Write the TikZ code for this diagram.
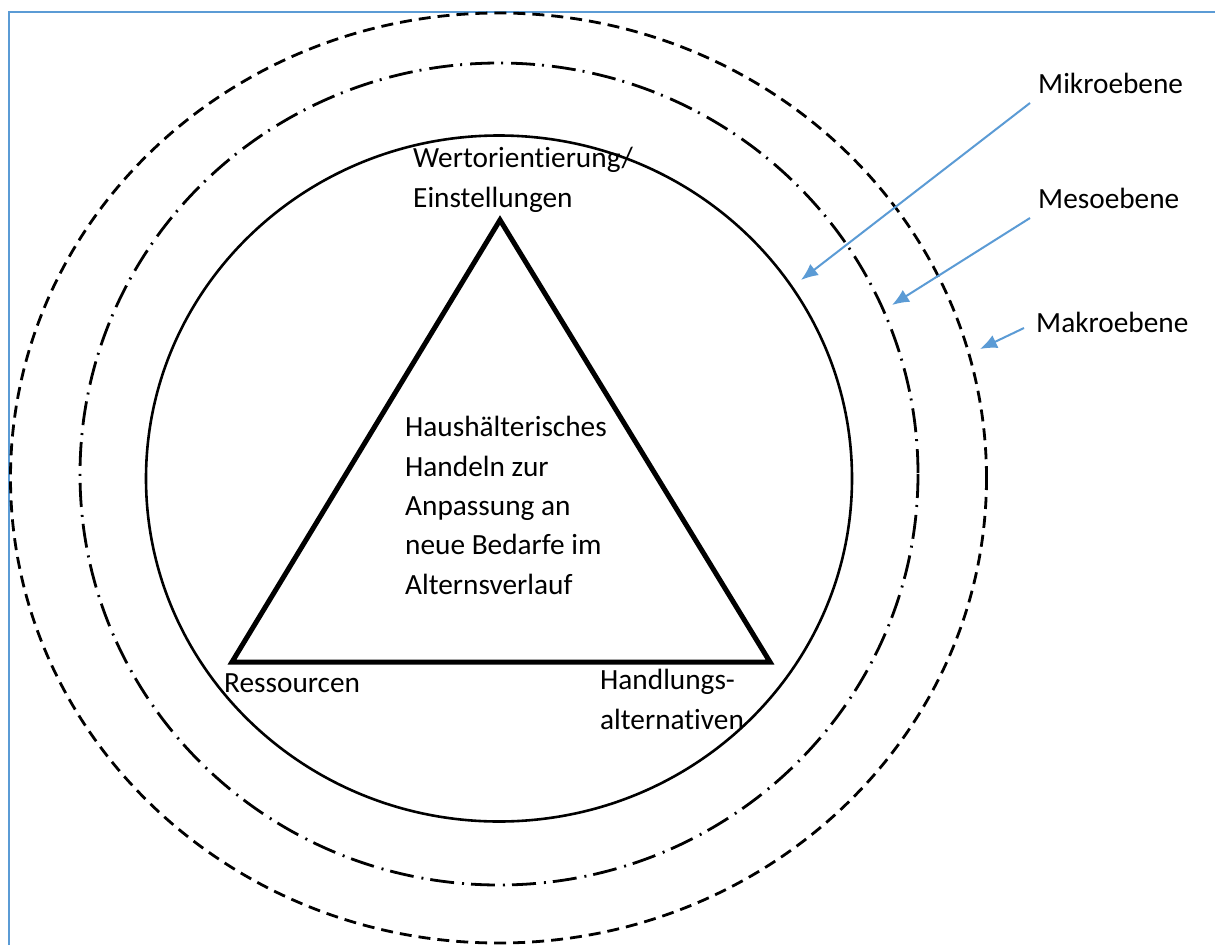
\documentclass[tikz,border=0pt]{standalone}
\usepackage{fontspec}
\setmainfont{Carlito}[Ligatures=NoCommon]
\usetikzlibrary{arrows.meta}
\definecolor{msblue}{RGB}{91,155,213}
\begin{document}
\begin{tikzpicture}[x=1pt,y=-1pt,
  lbl/.style={anchor=base west, inner sep=0pt, align=left, font=\fontsize{29.3pt}{39.3pt}\selectfont},
  ring/.style={draw=black, line width=2.6pt},
  dashring/.style={draw=black, line width=2.8pt, dash pattern=on 12pt off 7pt},
  dotring/.style={draw=black, line width=2.8pt, dash pattern=on 24pt off 7pt on 2pt off 8pt},
  tri/.style={draw=black, line width=5pt, line join=miter},
  ptr/.style={draw=msblue, line width=2pt, -{Latex[length=17pt,width=14pt]}},
  frame/.style={draw=msblue, line width=2pt}]
\useasboundingbox (0,0) rectangle (1215,945);
\fill[white] (0,0) rectangle (1215,945);
% frame
\coordinate (fa) at (9,945);
\coordinate (fb) at (9,12);
\coordinate (fc) at (1215,12);
\draw[frame] (fa) -- (fb) -- (fc);
% rings
\coordinate (c1) at (499,478.5);
\coordinate (c2) at (499,474);
\coordinate (c3) at (498.5,478);
\draw[ring] (c1) ellipse [x radius=353, y radius=343];
\draw[dotring] (c2) ellipse [x radius=419, y radius=411];
\draw[dashring] (c3) ellipse [x radius=488, y radius=465];
% triangle
\coordinate (top) at (500,220);
\coordinate (bl) at (232,662);
\coordinate (br) at (770,662);
\draw[tri] (top) -- (br) -- (bl) -- cycle;
% labels (base anchor = baseline of last line)
\node[lbl] (wert) at (413,207) {Wertorientierung/\\Einstellungen};
\node[lbl] (mid) at (405,594) {Haushälterisches\\Handeln zur\\Anpassung an\\neue Bedarfe im\\Alternsverlauf};
\node[lbl] (res) at (224,692) {Ressourcen};
\node[lbl] (hand) at (600,729) {Handlungs-\\alternativen};
\node[lbl] (mikro) at (1038,93) {Mikroebene};
\node[lbl] (meso) at (1038,208) {Mesoebene};
\node[lbl] (makro) at (1036,332) {Makroebene};
% pointers
\coordinate (mikroS) at (1030,103);
\coordinate (mikroT) at (801,280);
\coordinate (mesoS) at (1030,218);
\coordinate (mesoT) at (892,305);
\coordinate (makroS) at (1024,328);
\coordinate (makroT) at (980,349);
\draw[ptr] (mikroS) -- (mikroT);
\draw[ptr] (mesoS) -- (mesoT);
\draw[ptr] (makroS) -- (makroT);
\end{tikzpicture}
\end{document}
